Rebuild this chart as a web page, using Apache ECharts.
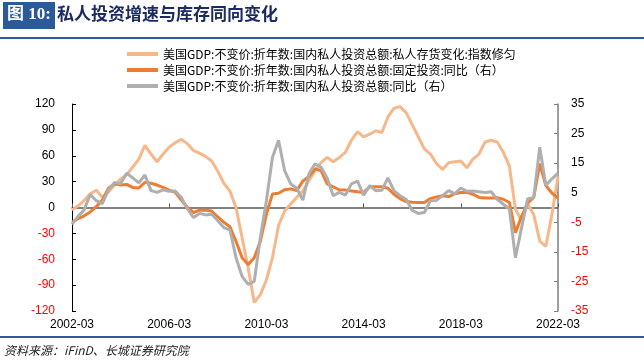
<!DOCTYPE html>
<html>
<head>
<meta charset="utf-8">
<script src="https://cdn.jsdelivr.net/npm/echarts@6/dist/echarts.min.js"></script>
<style>
html,body{margin:0;padding:0;background:#fff;}
#chart{width:644px;height:362px;}
</style>
</head>
<body>
<div id="chart"></div>
<script>
// quarterly categories 2002-03 .. 2022-03
const categories = [];
for (let y = 2002; y <= 2022; y++) {
  for (const m of ['03', '06', '09', '12']) {
    if (y === 2022 && m !== '03') break;
    categories.push(y + '-' + m);
  }
}

const seriesNames = [
  '美国GDP:不变价:折年数:国内私人投资总额:私人存货变化:指数修匀',
  '美国GDP:不变价:折年数:国内私人投资总额:固定投资:同比（右）',
  '美国GDP:不变价:折年数:国内私人投资总额:同比（右）'
];

// left axis: private inventory change (smoothed)
const inventoryChange = [
  -3, 2, 8, 16, 20, 12, 18, 26, 33, 38,
  47, 56, 72, 62, 53, 62, 70, 75, 79, 74,
  66, 63, 59, 54, 42, 28, 19, 0, -35, -70,
  -110, -101, -84, -58, -21, -4, 4, 12, 19, 31,
  43, 52, 58, 53, 58, 64, 78, 88, 82, 85,
  89, 87, 105, 115, 117, 110, 96, 82, 68, 62,
  51, 44, 52, 53, 54, 46, 56, 62, 76, 78,
  76, 64, 48, -2, -15, 4, -8, -39, -45, -8,
  36
];

// right axis: fixed investment yoy
const fixedInvYoY = [
  -5, -3.8, -2.8, -1.5, 0.3, 2.5, 6.5, 8, 7.6, 7.8,
  6.8, 6.6, 8.5, 8.2, 7.6, 6.8, 5.9, 5.1, 2.5, 0,
  -1.7, -0.9, -0.9, -1.2, -3.2, -5, -6.5, -11.4, -17, -19.3,
  -17, -11.4, -2.3, 4.6, 4.8, 6, 6.3, 5.7, 8.9, 10.5,
  13, 12.5, 8, 7, 6, 5.9, 5.6, 5.3, 5.1, 7,
  7, 7, 6.5, 4.5, 3, 2, 1.8, 1.7, 1.7, 3,
  3.6, 4, 3.7, 4.6, 5.1, 5.1, 4.5, 3.4, 3.2, 3.2,
  3.3, 2.8, 1.7, -8.5, -3, 1.5, 3.4, 14.8, 7.4, 4.9,
  3.2
];

// right axis: total private investment yoy
const totalInvYoY = [
  -5.7, -3, -0.8, 4.4, 2.3, 1.3, 6, 8.5, 8, 11.6,
  10, 8.3, 11, 5.7, 5.1, 6, 5.5, 5.6, 3.4, -0.5,
  -3.4, -2, -2.5, -2.3, -4.5, -6.8, -7.6, -17, -23.3, -26,
  -25, -10.2, 2.3, 17, 22.7, 12.5, 8, 6.5, 2.5, 11.4,
  14.8, 13.6, 10, 4, 5.1, 4.2, 8, 8.9, 4.2, 7.4,
  5.7, 5.8, 10, 5.7, 4, 2.8, -1, -2, -1.7, 2.3,
  2.4, 4, 5.7, 4.6, 6.6, 5.5, 5.6, 5.3, 5.1, 5.3,
  2.8, 1.1, -0.5, -17, -6.8, 2.9, 3.4, 20.4, 7.4, 9.7,
  11.6
];

const leftTicks = { min: -120, max: 120, interval: 30 };
const rightTicks = { min: -35, max: 35, interval: 10 };

const colors = ['#F6B88A', '#ED7D31', '#AFAFAF'];
const FONT = '"Liberation Sans", Arial, sans-serif';
const CJK = '"Noto Sans CJK SC", sans-serif';

const negRed = function (v) { return parseFloat(v) < 0 ? '#FF0000' : '#000000'; };

const chart = echarts.init(document.getElementById('chart'), null, { renderer: 'canvas' });

chart.setOption({
  animation: false,
  backgroundColor: '#ffffff',
  color: colors,
  grid: { left: 72, right: 86, top: 104, bottom: 51, containLabel: false },
  graphic: [
    { type: 'rect', left: 3, top: 2, shape: { width: 52, height: 27 }, style: { fill: '#2C5A99' } },
    { type: 'text', left: 7, top: 6, style: { text: '图 10:', fill: '#ffffff', font: 'bold 17px "Liberation Serif", "Noto Sans CJK SC", serif' } },
    { type: 'text', left: 57, top: 5, style: { text: '私人投资增速与库存同向变化', fill: '#1C2A63', font: 'bold 17px "Noto Sans CJK SC", sans-serif' } },
    { type: 'rect', left: 0, top: 37, shape: { width: 644, height: 2 }, style: { fill: '#2E5B9A' } },
    { type: 'rect', left: 0, top: 336, shape: { width: 644, height: 2 }, style: { fill: '#2E5B9A' } },
    { type: 'text', left: 4, top: 344, style: { text: '资料来源：iFinD、长城证券研究院', fill: '#222222', font: 'italic 12px "Noto Sans CJK SC", sans-serif' } }
  ],
  legend: {
    orient: 'vertical',
    left: 120,
    top: 43,
    itemWidth: 31,
    itemHeight: 14,
    itemGap: 4,
    itemStyle: { opacity: 0 },
    lineStyle: { width: 4 },
    textStyle: { fontSize: 12, color: '#000', fontFamily: CJK },
    data: seriesNames
  },
  xAxis: [
    {
      type: 'category',
      data: categories,
      boundaryGap: false,
      position: 'bottom',
      axisLine: { show: false },
      axisTick: { show: false },
      axisLabel: { interval: 15, color: '#000', fontSize: 12, fontFamily: FONT, margin: 8 },
      splitLine: { show: false }
    },
    {
      type: 'category',
      data: categories,
      boundaryGap: false,
      position: 'bottom',
      axisLine: { show: true, onZero: true, onZeroAxisIndex: 0, lineStyle: { color: '#595959', width: 1.5 } },
      axisTick: { show: true, inside: true, interval: 15, length: 4, lineStyle: { color: '#595959' } },
      axisLabel: { show: false },
      splitLine: { show: false }
    }
  ],
  yAxis: [
    {
      type: 'value',
      position: 'left',
      min: leftTicks.min, max: leftTicks.max, interval: leftTicks.interval,
      axisLine: { show: true, lineStyle: { color: '#000', width: 1 } },
      axisTick: { show: true, inside: true, length: 4, lineStyle: { color: '#000' } },
      axisLabel: { color: negRed, fontSize: 12, fontFamily: FONT, margin: 17 },
      splitLine: { show: false }
    },
    {
      type: 'value',
      position: 'right',
      min: rightTicks.min, max: rightTicks.max, interval: rightTicks.interval,
      axisLine: { show: true, lineStyle: { color: '#7F7F7F', width: 1.5 } },
      axisTick: { show: true, inside: true, length: 4, lineStyle: { color: '#7F7F7F' } },
      axisLabel: { color: negRed, fontSize: 12, fontFamily: FONT, margin: 13 },
      splitLine: { show: false }
    }
  ],
  series: [
    {
      name: seriesNames[0], type: 'line', xAxisIndex: 0, yAxisIndex: 0,
      data: inventoryChange, symbol: 'none', smooth: false,
      lineStyle: { width: 3, color: colors[0] }, itemStyle: { color: colors[0] }, z: 2
    },
    {
      name: seriesNames[1], type: 'line', xAxisIndex: 0, yAxisIndex: 1,
      data: fixedInvYoY, symbol: 'none',
      lineStyle: { width: 3, color: colors[1] }, itemStyle: { color: colors[1] }, z: 3
    },
    {
      name: seriesNames[2], type: 'line', xAxisIndex: 0, yAxisIndex: 1,
      data: totalInvYoY, symbol: 'none',
      lineStyle: { width: 3, color: colors[2] }, itemStyle: { color: colors[2] }, z: 4
    }
  ]
});
</script>
</body>
</html>
